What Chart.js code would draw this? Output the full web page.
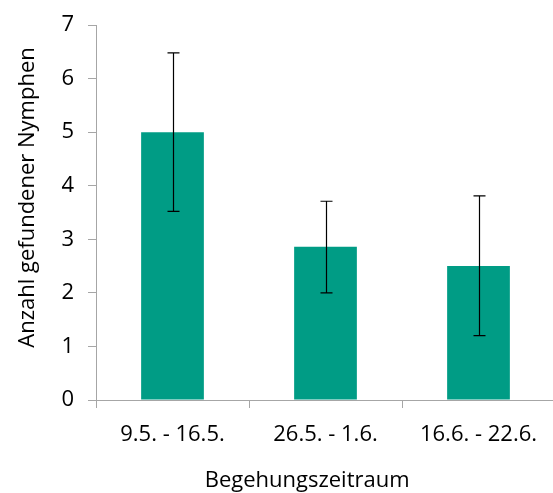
<!DOCTYPE html>
<html>
<head>
<meta charset="utf-8">
<script src="https://cdn.jsdelivr.net/npm/chart.js@4"></script>
<style>
  html, body { margin: 0; padding: 0; background: #fff; overflow: hidden; }
  #wrap { width: 557px; height: 493px; }
</style>
</head>
<body>
<div id="wrap"><canvas id="c"></canvas></div>
<script>
const categories = ["9.5. - 16.5.", "26.5. - 1.6.", "16.6. - 22.6."];
const means = [5.0, 2.86, 2.5];
const errLow = [3.52, 2.0, 1.2];
const errHigh = [6.48, 3.71, 3.81];
const yTicks = [0, 1, 2, 3, 4, 5, 6, 7];
const xTitle = 'Begehungszeitraum';
const yTitle = 'Anzahl gefundener Nymphen';

const FONT = "'Open Sans', 'Noto Sans', sans-serif";
const AXIS = "#a6a6a6";

const errorBars = {
  id: 'errorBars',
  afterDatasetsDraw(chart) {
    const ctx = chart.ctx;
    const meta = chart.getDatasetMeta(0);
    const y = chart.scales.y;
    ctx.save();
    ctx.strokeStyle = '#000';
    ctx.lineWidth = 1.2;
    meta.data.forEach((bar, i) => {
      const x = Math.round(bar.x) + 0.5;
      const yt = y.getPixelForValue(errHigh[i]);
      const yb = y.getPixelForValue(errLow[i]);
      ctx.beginPath();
      ctx.moveTo(x, yt); ctx.lineTo(x, yb);
      ctx.moveTo(x - 6, yt); ctx.lineTo(x + 6, yt);
      ctx.moveTo(x - 6, yb); ctx.lineTo(x + 6, yb);
      ctx.stroke();
    });
    ctx.restore();
  }
};

const axisTitles = {
  id: 'axisTitles',
  afterDraw(chart) {
    const ctx = chart.ctx;
    const a = chart.chartArea;
    ctx.save();
    ctx.fillStyle = '#000';
    ctx.font = "22px " + FONT;
    ctx.textAlign = 'center';
    ctx.textBaseline = 'middle';
    ctx.fillText(xTitle, a.left + (a.right - a.left) * 0.46, chart.height - 12);
    ctx.translate(28, a.top + (a.bottom - a.top) * 0.46);
    ctx.rotate(-Math.PI / 2);
    ctx.fillText(yTitle, 0, 0);
    ctx.restore();
  }
};

new Chart(document.getElementById('c'), {
  type: 'bar',
  data: {
    labels: categories,
    datasets: [{
      data: means,
      backgroundColor: '#009c85',
      borderWidth: 0,
      barPercentage: 0.41,
      categoryPercentage: 1.0
    }]
  },
  options: {
    responsive: true,
    maintainAspectRatio: false,
    animation: false,
    layout: { padding: { top: 0, left: 0, right: 2, bottom: 0 } },
    plugins: { legend: { display: false }, tooltip: { enabled: false } },
    scales: {
      x: {
        offset: true,
        grid: { offset: true, drawOnChartArea: false, drawTicks: true, tickLength: 8, color: AXIS, lineWidth: 1 },
        border: { color: AXIS, width: 1 },
        ticks: { color: '#000', font: { family: FONT, size: 22 }, padding: 14, maxRotation: 0 },
        afterFit(s) { s.height = 93; }
      },
      y: {
        min: 0, max: 7,
        afterBuildTicks(s) { s.ticks = yTicks.map(v => ({ value: v })); },
        grid: { drawOnChartArea: false, drawTicks: true, tickLength: 8, color: AXIS, lineWidth: 1 },
        border: { color: AXIS, width: 1 },
        ticks: { color: '#000', font: { family: FONT, size: 22, lineHeight: 1.0 }, padding: 14 },
        afterFit(s) { s.width = 96; }
      }
    }
  },
  plugins: [errorBars, axisTitles]
});
</script>
</body>
</html>
